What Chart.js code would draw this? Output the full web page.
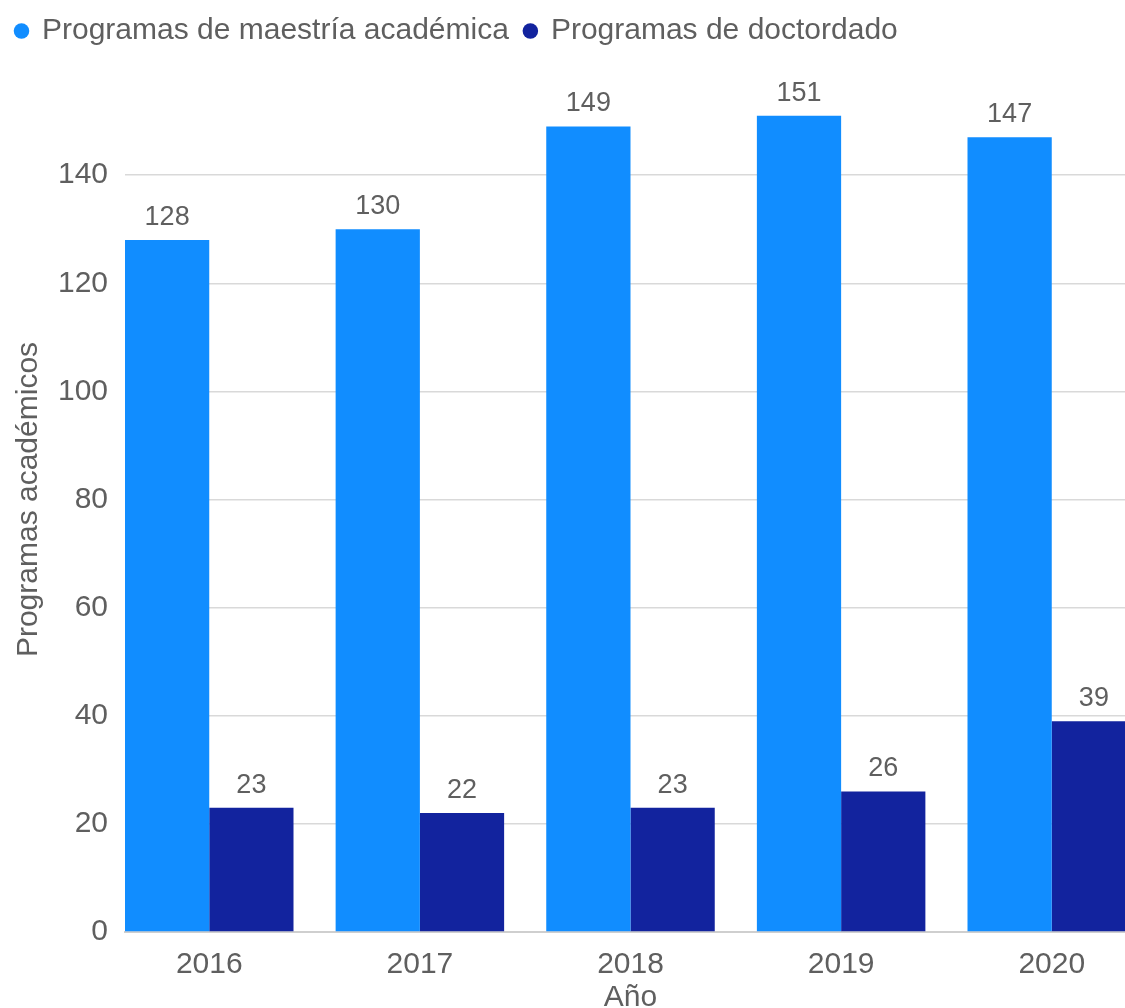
<!DOCTYPE html>
<html>
<head>
<meta charset="utf-8">
<script src="https://cdn.jsdelivr.net/npm/chart.js@4.4.0/dist/chart.umd.min.js"></script>
<style>
    html, body { margin: 0; padding: 0; background: #fff; overflow: hidden; }
    #wrap { position: relative; width: 1140px; height: 1025px; }
</style>
</head>
<body>
<div id="wrap"><canvas id="programasChart"></canvas></div>
<script>
const years = [2016, 2017, 2018, 2019, 2020];
const maestria = [128, 130, 149, 151, 147];
const doctorado = [23, 22, 23, 26, 39];
const yTicks = [0, 20, 40, 60, 80, 100, 120, 140];

const textColor = '#5f5f5f';
const gridColor = '#d9d9d9';

// etiquetas de valor encima de cada barra
const valueLabels = {
    id: 'valueLabels',
    afterDatasetsDraw(chart) {
        const ctx = chart.ctx;
        ctx.save();
        ctx.font = '27px "Liberation Sans", Arial, sans-serif';
        ctx.fillStyle = textColor;
        ctx.textAlign = 'center';
        ctx.textBaseline = 'alphabetic';
        chart.data.datasets.forEach((ds, i) => {
            chart.getDatasetMeta(i).data.forEach((bar, j) => {
                ctx.fillText(ds.data[j].y, bar.x, bar.y - 15);
            });
        });
        ctx.restore();
    }
};

// algo mas de espacio debajo de la leyenda
const legendSpacing = {
    id: 'legendSpacing',
    beforeInit(chart) {
        const fit = chart.legend.fit;
        chart.legend.fit = function () {
            fit.call(this);
            this.height += 11;
        };
    }
};

const ctx = document.getElementById('programasChart').getContext('2d');
new Chart(ctx, {
    type: 'bar',
    data: {
        datasets: [{
            label: 'Programas de maestría académica',
            data: years.map((y, i) => ({ x: y, y: maestria[i] })),
            backgroundColor: '#118dff',
            categoryPercentage: 0.8,
            barPercentage: 1
        }, {
            label: 'Programas de doctordado',
            data: years.map((y, i) => ({ x: y, y: doctorado[i] })),
            backgroundColor: '#12239e',
            categoryPercentage: 0.8,
            barPercentage: 1
        }]
    },
    options: {
        responsive: true,
        maintainAspectRatio: false,
        animation: false,
        layout: { padding: { top: 0, right: 4, bottom: 0, left: 0 } },
        plugins: {
            legend: {
                position: 'top',
                align: 'start',
                labels: {
                    usePointStyle: true,
                    pointStyle: 'circle',
                    boxWidth: 11,
                    boxHeight: 11,
                    padding: 16,
                    color: textColor,
                    font: { size: 30, family: '"Liberation Sans", Arial, sans-serif' }
                }
            },
            tooltip: { enabled: false }
        },
        scales: {
            x: {
                type: 'linear',
                min: 2015.6,
                max: 2020.4,
                offset: false,
                grid: { display: false },
                border: { display: true, color: '#cfcfcf', width: 2 },
                ticks: {
                    stepSize: 1,
                    padding: 7,
                    color: textColor,
                    font: { size: 30, family: '"Liberation Sans", Arial, sans-serif' },
                    callback: v => String(v)
                },
                afterBuildTicks: axis => {
                    axis.ticks = years.map(v => ({ value: v }));
                },
                afterFit: axis => { axis.height = 93; },
                title: {
                    display: true,
                    text: 'Año',
                    color: textColor,
                    padding: { top: 0, bottom: 9 },
                    font: { size: 30, family: '"Liberation Sans", Arial, sans-serif' }
                }
            },
            y: {
                min: 0,
                max: 160,
                grid: { color: gridColor, lineWidth: 1.5, drawTicks: false },
                border: { display: false },
                ticks: {
                    padding: 17,
                    color: textColor,
                    font: { size: 30, family: '"Liberation Sans", Arial, sans-serif' }
                },
                afterBuildTicks: axis => {
                    axis.ticks = yTicks.map(v => ({ value: v }));
                },
                afterFit: axis => { axis.width = 125; },
                title: {
                    display: true,
                    text: 'Programas académicos',
                    color: textColor,
                    padding: { top: 11, bottom: 0 },
                    font: { size: 30, family: '"Liberation Sans", Arial, sans-serif' }
                }
            }
        }
    },
    plugins: [valueLabels, legendSpacing]
});
</script>
</body>
</html>
